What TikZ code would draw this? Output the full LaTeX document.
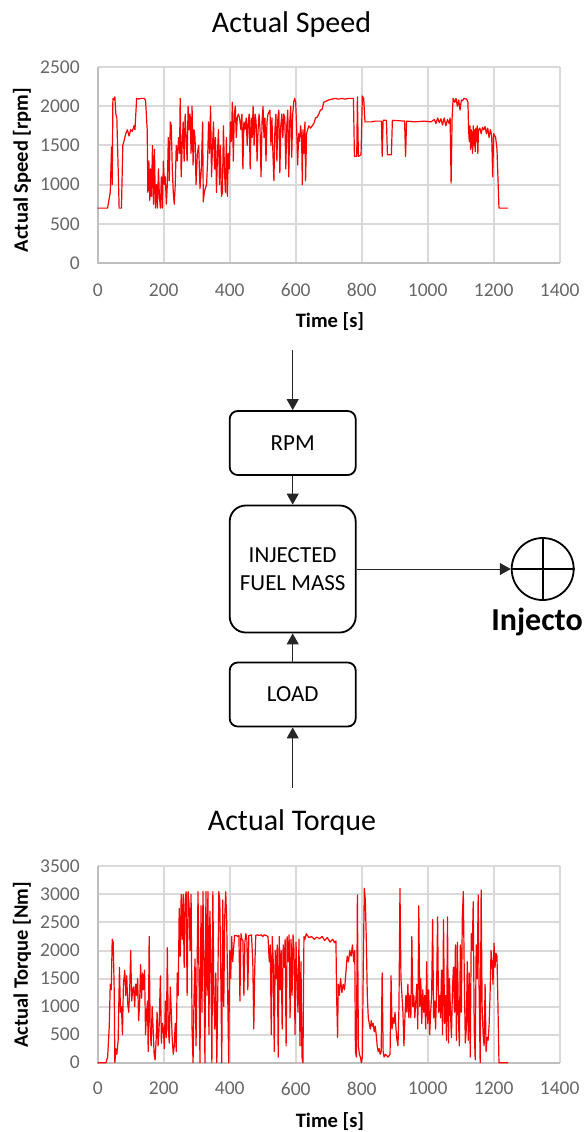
\documentclass[tikz,border=0pt]{standalone}
\usepackage{fontspec}
\setmainfont{Carlito}
\usetikzlibrary{arrows.meta, positioning, shapes}
\tikzstyle{box} = [rectangle, rounded corners = 4pt, draw = black,
  line width = 0.9pt, minimum width = 63pt, minimum height = 32pt,
  text centered, font = \fontsize{11.5}{14}\selectfont]
\tikzstyle{bigbox} = [
  box, rounded corners = 8pt,
  minimum height = 63.5pt, align = center
]
\tikzstyle{feed} = [-{Triangle[length = 5.5pt, width = 6pt]}, draw = black!85,
  line width = 0.5pt]
\tikzstyle{gridline} = [draw = black!15, line width = 1pt]
\tikzstyle{axisline} = [draw = black!25, line width = 1pt]
\tikzstyle{trace} = [red, line width = 0.6pt, line join = round]
\tikzstyle{tick} = [text = black!60, inner sep = 0,
  font = \fontsize{9.75}{10}\selectfont]
\tikzstyle{axislabel} = [inner sep = 0, font = \bfseries\fontsize{10.25}{12}\selectfont]
\tikzstyle{charttitle} = [inner sep = 0, anchor = base,
  font = \fontsize{15}{18}\selectfont]

\begin{document}
\begin{tikzpicture}[node distance = 0, x = 0.5pt, y = -0.5pt]
      \useasboundingbox (0, 0) rectangle (584, 1132);

      % speed chart
      \node [charttitle] (speed-title) at (291.5, 32) {Actual Speed};
      \node [axislabel, rotate = 90] (speed-ylabel) at (22, 170) {Actual Speed [rpm]};
      \node [axislabel] (speed-xlabel) at (330, 322) {Time [s]};
      \begin{scope}[shift = {(97.7, 263)}, x = 0.165pt, y = 0.0392pt]
        \foreach \v in {500, 1000, ..., 2500}
          \draw [gridline] (0, \v) -- (1400, \v);
        \foreach \t in {200, 400, ..., 1400}
          \draw [gridline] (\t, 0) -- (\t, 2500);
        \draw [axisline] (0, 2500) -- (0, 0) -- (1400, 0);
        \foreach \v in {0, 500, ..., 2500}
          \node [tick, anchor = east, xshift = -8.8pt] (speed-y-\v) at (0, \v) {\v};
        \foreach \t in {0, 200, ..., 1400}
          \node [tick, yshift = -13.5pt] (speed-x-\t) at (\t, 0) {\t};
        \draw [trace] plot coordinates {
          (0,700) (30,700) (38,900) (42,1480) (44,1000) (46,2100) (50,2080)
          (52,2120) (55,1900) (58,1850) (62,1200) (65,700) (72,700) (76,1500)
          (80,1560) (85,1650) (90,1700) (95,1620) (100,1700) (105,1680)
          (110,1750) (113,1700) (118,2100) (125,2090) (130,2100) (140,2100)
          (145,2080) (150,1700) (152,900) (155,1300) (158,800) (160,1200)
          (163,850) (166,1500) (169,750) (172,1450) (175,700) (178,1000)
          (181,700) (184,1200) (187,850) (190,700) (193,1100) (196,700)
          (199,1300) (202,1000) (205,1100) (208,750) (211,1000) (214,1600)
          (217,1050) (220,1800) (223,1750) (226,1200) (229,900) (232,750)
          (235,1000) (238,1500) (241,1300) (245,1600) (248,1400) (250,2100)
          (253,1100) (256,1500) (259,1800) (262,1300) (265,1900) (268,1600)
          (271,1300) (274,2000) (277,1700) (280,1900) (283,1400) (286,2000)
          (289,1250) (292,1700) (295,1600) (298,1000) (302,1400) (306,1500)
          (310,950) (314,1200) (318,1800) (320,780) (323,900) (326,950)
          (330,1000) (333,1300) (336,1800) (339,1400) (342,2000) (345,1100)
          (348,1500) (351,1800) (354,1200) (357,1600) (360,900) (363,1400)
          (366,1700) (369,1000) (372,1500) (375,850) (378,900) (381,1750)
          (384,1200) (387,900) (390,1600) (393,850) (396,1400) (399,1200)
          (402,1800) (405,1550) (408,2050) (411,1300) (414,1900) (417,2000)
          (420,1600) (423,1850) (426,1900) (430,1850) (434,1700) (437,1900)
          (440,1200) (443,1800) (446,1700) (450,1850) (453,1500) (456,1800)
          (459,1900) (462,1200) (465,1850) (468,1600) (471,2000) (474,1500)
          (477,1900) (480,1800) (483,1300) (486,1700) (489,1900) (492,1700)
          (495,1100) (498,1800) (501,2000) (504,1600) (507,1850) (510,1300)
          (513,1800) (516,1900) (522,1950) (525,1500) (528,1850) (531,1400)
          (534,1050) (537,1700) (540,1900) (543,1300) (546,1850) (549,1950)
          (552,1150) (555,1750) (558,1900) (561,1600) (564,1900) (567,1850)
          (570,1200) (573,1750) (576,1950) (579,1100) (582,1800) (585,2000)
          (588,1350) (591,1900) (594,2050) (597,2100) (600,2050) (603,1700)
          (606,1250) (609,1650) (612,1550) (615,1750) (618,1600) (620,1000)
          (622,1700) (625,1400) (628,1800) (630,1050) (633,1650) (636,1700)
          (640,1750) (645,1720) (650,1750) (655,1780) (660,1850) (665,1860)
          (670,1900) (675,1950) (680,1960) (685,2050) (690,2060) (700,2080)
          (710,2090) (720,2100) (730,2090) (740,2100) (750,2090) (760,2100)
          (775,2100) (778,1360) (785,1360) (787,2120) (790,1360) (798,1380)
          (802,2130) (806,2100) (810,1800) (830,1800) (840,1810) (860,1810)
          (862,1360) (865,1820) (875,1820) (878,1380) (890,1380) (893,1820)
          (930,1810) (933,1360) (936,1810) (960,1800) (990,1810) (1010,1800)
          (1020,1830) (1025,1780) (1030,1850) (1035,1790) (1040,1840)
          (1045,1760) (1050,1850) (1055,1750) (1060,1830) (1065,1780)
          (1068,1850) (1071,1020) (1074,1850) (1077,2100) (1082,2050)
          (1086,2100) (1090,2000) (1094,2080) (1098,1950) (1102,2080)
          (1106,2070) (1110,2100) (1118,2090) (1122,2050) (1124,1700)
          (1126,1550) (1128,1750) (1130,1450) (1132,1700) (1134,1600)
          (1136,1400) (1138,1750) (1140,1500) (1142,1700) (1144,1420)
          (1146,1720) (1148,1550) (1150,1750) (1152,1400) (1154,1700)
          (1158,1720) (1162,1650) (1166,1730) (1170,1700) (1174,1740)
          (1178,1650) (1182,1720) (1186,1600) (1190,1700) (1194,1620)
          (1197,1100) (1200,1650) (1206,1600) (1210,1450) (1216,700) (1244,700)
        };
      \end{scope}

      % torque chart
      \node [charttitle] (torque-title) at (292, 830) {Actual Torque};
      \node [axislabel, rotate = 90] (torque-ylabel) at (22, 965) {Actual Torque [Nm]};
      \node [axislabel] (torque-xlabel) at (330, 1122) {Time [s]};
      \begin{scope}[shift = {(97.7, 1062.7)}, x = 0.165pt, y = 0.02805pt]
        \foreach \v in {500, 1000, ..., 3500}
          \draw [gridline] (0, \v) -- (1400, \v);
        \foreach \t in {200, 400, ..., 1400}
          \draw [gridline] (\t, 0) -- (\t, 3500);
        \draw [axisline] (0, 3500) -- (0, 0) -- (1400, 0);
        \foreach \v in {0, 500, ..., 3500}
          \node [tick, anchor = east, xshift = -8.8pt] (torque-y-\v) at (0, \v) {\v};
        \foreach \t in {0, 200, ..., 1400}
          \node [tick, yshift = -13pt] (torque-x-\t) at (\t, 0) {\t};
        \draw [trace] plot coordinates {
          (0,0) (25,0) (30,100) (35,640) (38,1400) (41,1300) (44,2200)
          (47,2150) (50,1300) (52,0) (55,250) (58,150) (62,400) (66,1700)
          (69,900) (72,1000) (75,500) (78,1400) (82,1650) (85,1200) (88,1550)
          (91,1050) (94,900) (97,1300) (100,2000) (103,1100) (106,1300)
          (109,1350) (112,1000) (115,1400) (118,1200) (121,1500) (124,750)
          (127,1050) (130,1750) (133,1150) (136,1600) (139,1300) (142,1650)
          (145,500) (148,900) (151,1100) (153,200) (156,2250) (159,600)
          (162,300) (165,1000) (168,600) (171,150) (174,50) (177,400)
          (180,900) (183,300) (186,600) (190,1550) (193,350) (196,700)
          (199,600) (202,250) (205,1100) (208,450) (211,2050) (214,600)
          (217,350) (220,1350) (223,900) (226,400) (229,150) (232,300)
          (235,700) (238,200) (241,1600) (244,1200) (247,2750) (250,1900)
          (253,3000) (256,2200) (259,3000) (262,1700) (265,2900) (268,3050)
          (271,1200) (274,3050) (277,2800) (280,2000) (283,3000) (286,600)
          (289,0) (292,1200) (295,1850) (298,300) (301,1600) (304,3050)
          (307,1500) (310,0) (313,2800) (316,900) (319,3050) (322,1800)
          (325,0) (328,3050) (331,1200) (334,3050) (337,500) (340,2700)
          (343,1800) (346,0) (349,3050) (352,1200) (355,600) (358,1600)
          (361,0) (364,1300) (367,3050) (370,2900) (373,1600) (376,0)
          (379,2900) (382,1000) (385,2600) (388,3050) (391,2500) (394,1200)
          (397,0) (400,2000) (403,1500) (406,2250) (409,1800) (412,2050)
          (415,2270) (420,2270) (425,2250) (428,2270) (431,1100) (434,2300)
          (437,2200) (440,2180) (443,1200) (446,2150) (449,2300) (452,2200)
          (455,1300) (458,2270) (462,2270) (466,2280) (470,1800) (473,600)
          (476,1700) (479,2270) (484,2280) (490,2270) (496,2280) (500,2250)
          (505,2280) (510,2270) (516,2250) (520,1800) (523,2100) (526,500)
          (529,2250) (532,1800) (535,200) (538,2000) (541,1500) (544,2100)
          (547,100) (550,2250) (553,1300) (556,2000) (559,600) (562,2100)
          (565,1700) (568,2200) (571,300) (574,2250) (577,1800) (580,2280)
          (583,800) (586,2200) (589,1200) (592,2280) (595,2000) (598,500)
          (601,2150) (604,1500) (607,900) (610,2200) (613,300) (616,1800)
          (619,100) (622,0) (625,2250) (628,2200) (632,2300) (640,2230)
          (648,2250) (656,2200) (664,2240) (672,2210) (680,2250) (688,2180)
          (696,2230) (704,2150) (712,2200) (718,2140) (722,2170) (724,1200)
          (727,450) (729,1400) (732,1200) (736,1500) (740,1250) (744,1400)
          (748,1300) (752,1600) (756,1900) (760,1800) (764,2000) (768,1900)
          (772,2100) (776,1800) (779,2000) (781,200) (784,100) (787,2990)
          (790,300) (793,150) (796,100) (799,0) (802,100) (805,1800)
          (808,3110) (811,2900) (814,2200) (817,1200) (820,800) (823,700)
          (826,600) (829,750) (832,650) (835,700) (838,550) (841,650)
          (844,500) (847,300) (850,200) (853,250) (856,150) (859,200)
          (862,1600) (865,200) (868,100) (872,150) (880,100) (886,150)
          (889,1550) (892,600) (895,800) (898,700) (901,900) (904,600)
          (907,400) (910,300) (913,1000) (916,3110) (919,1500) (922,1200)
          (925,900) (928,300) (931,800) (934,1200) (937,900) (940,1400)
          (943,800) (946,1200) (949,800) (952,2250) (955,1000) (958,1200)
          (961,800) (964,1100) (967,1400) (970,600) (973,2800) (976,1000)
          (979,1500) (982,700) (985,1300) (988,900) (991,1200) (994,600)
          (997,1800) (1000,700) (1003,1300) (1006,500) (1009,900) (1012,1200)
          (1015,2550) (1018,800) (1021,1100) (1024,600) (1027,1300)
          (1030,2600) (1033,900) (1036,1200) (1039,800) (1042,1650)
          (1045,500) (1048,2550) (1051,700) (1054,1200) (1057,400)
          (1060,2600) (1063,350) (1066,1500) (1069,900) (1072,450)
          (1075,1300) (1078,1700) (1081,900) (1084,2100) (1087,400)
          (1090,2150) (1093,800) (1096,300) (1099,2100) (1102,900)
          (1105,2600) (1108,3050) (1111,1500) (1114,350) (1117,600)
          (1120,1800) (1123,400) (1126,1600) (1129,100) (1132,2300)
          (1135,2000) (1138,2870) (1141,600) (1144,50) (1147,2100)
          (1150,1500) (1153,2990) (1156,1200) (1159,0) (1162,3080)
          (1165,1000) (1168,500) (1171,300) (1174,1400) (1177,200)
          (1180,450) (1183,400) (1186,650) (1189,1200) (1192,2000)
          (1195,1800) (1198,1400) (1201,2130) (1204,1700) (1207,1950)
          (1210,1900) (1213,1000) (1216,0) (1244,0)
        };
      \end{scope}

      % fuel map blocks
      \node [box] (rpm) at (292.7, 443) {RPM};
      \node [bigbox, below of = rpm, yshift = -63pt] (fuel) {INJECTED\\FUEL MASS};
      \node [box, below of = fuel, yshift = -62.75pt] (load) {LOAD};
      \node [circle, draw, line width = 0.9pt, minimum size = 31pt,
        inner sep = 0] (inj) at (542.7, 569) {};
      \draw [line width = 0.9pt] (inj.north) -- (inj.south) (inj.west) -- (inj.east);
      \node [anchor = base, font = \bfseries\fontsize{16}{19}\selectfont]
        (inj-label) at ([yshift = -15pt] inj.south) {Injector};

      \coordinate (speed-in) at (292.7, 350);
      \coordinate (torque-in) at (292.7, 788);
      \draw [feed] (speed-in) -- (rpm);
      \draw [feed] (rpm) -- (fuel);
      \draw [feed] (fuel) -- (inj);
      \draw [feed] (load) -- (fuel);
      \draw [feed] (torque-in) -- (load);
    \end{tikzpicture}
\end{document}
